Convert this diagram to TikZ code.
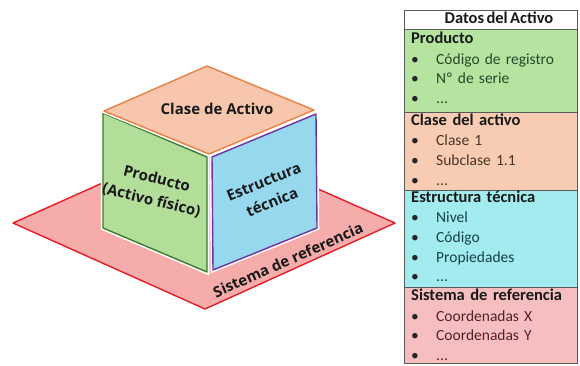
\documentclass[tikz,border=0pt]{standalone}
\usepackage{fontspec}
\setmainfont{Carlito}[WordSpace=0.65]
\newfontfamily\cubefont{Open Sans}
\usepackage{xcolor}
\usetikzlibrary{positioning}

\definecolor{planefill}{RGB}{245,172,170}
\definecolor{planeline}{RGB}{228,30,38}
\definecolor{prodfill}{RGB}{178,222,154}
\definecolor{prodline}{RGB}{62,120,44}
\definecolor{clasefill}{RGB}{247,198,172}
\definecolor{claseline}{RGB}{234,128,66}
\definecolor{estrfill}{RGB}{150,216,238}
\definecolor{estrline}{RGB}{112,48,160}
\definecolor{tprod}{RGB}{180,228,160}
\definecolor{tclase}{RGB}{248,204,178}
\definecolor{testr}{RGB}{162,236,240}
\definecolor{tsist}{RGB}{246,190,190}
\definecolor{prodtxt}{RGB}{40,70,40}
\definecolor{clasetxt}{RGB}{75,50,38}
\definecolor{estrtxt}{RGB}{22,64,72}
\definecolor{sisttxt}{RGB}{80,36,36}

\newcommand{\bul}[1]{\makebox[25pt][l]{\textcolor{black!85}{\textbullet}}#1}

\begin{document}
\begin{tikzpicture}[
    x=1pt, y=-1pt,
    face/.style={line width=1.4pt, line join=round, preaction={draw=white, line width=4.5pt}},
    plane/.style={line width=1.4pt, line join=round},
    lbl/.style={font=\cubefont\bfseries\fontsize{15}{22}\selectfont, text=black!90, align=center, inner sep=0pt},
    sect/.style={draw=black!65, line width=0.8pt},
    ttl/.style={font=\bfseries\fontsize{16.5}{18}\selectfont, text=black!90, text width=160pt, align=left, inner xsep=0pt, inner ysep=0pt, minimum height=19.2pt, text height=11pt, text depth=3.5pt},
    entry/.style={ttl, font=\fontsize{15.5}{18}\selectfont},
    ]
    \useasboundingbox (0,0) rectangle (580,365);

    % plano y cubo
    \draw[plane, draw=planeline, fill=planefill] (13,223) -- (203,138) -- (395,223) -- (205,309) -- cycle;
    \draw[face, draw=prodline, fill=prodfill] (103,113) -- (207,157) -- (207,272) -- (103,228) -- cycle;
    \draw[face, draw=estrline, fill=estrfill] (212,157) -- (316,114) -- (317,228) -- (213,270) -- cycle;
    \draw[face, draw=claseline, fill=clasefill] (104,111) -- (207,66) -- (314,110) -- (209,154) -- cycle;

    \node[lbl] (clase) at (217,109) {Clase de Activo};
    \node[lbl, rotate=-14] (prod) at (154,190) {Producto\\(Activo físico)};
    \node[lbl, rotate=22] (estr) at (268,192) {Estructura\\técnica};
    \node[lbl, rotate=24] (sist) at (288,260) {Sistema de referencia};

    % tabla
    \draw[sect, fill=white] (404,10) rectangle (577,29);
    \draw[sect, fill=tprod] (404,29) rectangle (577,112);
    \draw[sect, fill=tclase] (404,112) rectangle (577,190);
    \draw[sect, fill=testr] (404,190) rectangle (577,287);
    \draw[sect, fill=tsist] (404,287) rectangle (577,363);

    \node[ttl, text width=, anchor=center] (dat) at (499,19.5) {Datos del Activo};

    \node[ttl, anchor=west] (p0) at (411,40) {Producto};
    \node[entry, text=prodtxt, below=1pt of p0] (p1) {\bul{Código de registro}};
    \node[entry, text=prodtxt, below=0pt of p1] (p2) {\bul{Nº de serie}};
    \node[entry, text=prodtxt, below=0pt of p2] (p3) {\bul{...}};

    \node[ttl, anchor=west] (c0) at (411,121.5) {Clase del activo};
    \node[entry, text=clasetxt, below=1pt of c0] (c1) {\bul{Clase 1}};
    \node[entry, text=clasetxt, below=0pt of c1] (c2) {\bul{Subclase 1.1}};
    \node[entry, text=clasetxt, below=0pt of c2] (c3) {\bul{...}};

    \node[ttl, anchor=west] (e0) at (411,198.5) {Estructura técnica};
    \node[entry, text=estrtxt, below=1pt of e0] (e1) {\bul{Nivel}};
    \node[entry, text=estrtxt, below=0pt of e1] (e2) {\bul{Código}};
    \node[entry, text=estrtxt, below=0pt of e2] (e3) {\bul{Propiedades}};
    \node[entry, text=estrtxt, below=0pt of e3] (e4) {\bul{...}};

    \node[ttl, anchor=west] (s0) at (411,297) {Sistema de referencia};
    \node[entry, text=sisttxt, below=1pt of s0] (s1) {\bul{Coordenadas X}};
    \node[entry, text=sisttxt, below=0pt of s1] (s2) {\bul{Coordenadas Y}};
    \node[entry, text=sisttxt, below=0pt of s2] (s3) {\bul{...}};
  \end{tikzpicture}
\end{document}
